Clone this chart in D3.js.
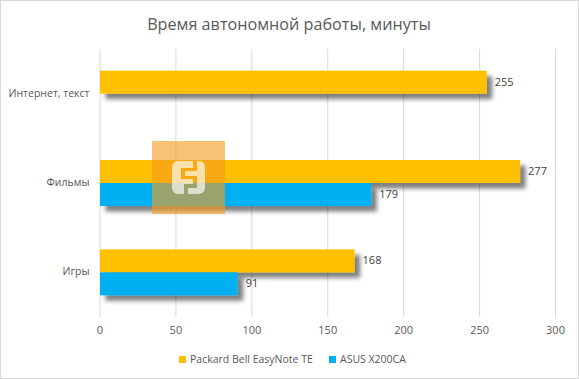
<!DOCTYPE html>
<html><head><meta charset="utf-8">
<script src="https://cdn.jsdelivr.net/npm/d3@7"></script>
<style>
html,body{margin:0;padding:0;background:#fff}
svg{display:block}
text{font-family:"Open Sans","Noto Sans",sans-serif}
</style></head><body>
<script>
const titleText = "Время автономной работы, минуты";
const categories = ["Интернет, текст", "Фильмы", "Игры"];
const seriesNames = ["Packard Bell EasyNote TE", "ASUS X200CA"];
const packardValues = [255, 277, 168];
const asusValues = [null, 179, 91];
const seriesColors = ["#FFC000", "#00B0F0"];
const xTicks = [0, 50, 100, 150, 200, 250, 300];

const W = 579, H = 379;
const svg = d3.select("body").append("svg").attr("width", W).attr("height", H);
const defs = svg.append("defs");
const f = defs.append("filter").attr("id","sh").attr("x","-10%").attr("y","-30%").attr("width","125%").attr("height","170%");
f.append("feDropShadow").attr("dx",5.5).attr("dy",5.5).attr("stdDeviation",2.1).attr("flood-color","#000").attr("flood-opacity",0.5);

svg.append("rect").attr("x",0.5).attr("y",0.5).attr("width",W-1).attr("height",H-1).attr("fill","#fff").attr("stroke","#D9D9D9");

const x = d3.scaleLinear().domain([0,300]).range([99.5,555]);
const y = d3.scaleBand().domain(categories).range([49,317]).paddingInner(0.485).paddingOuter(0.2425);
const inner = d3.scaleBand().domain(seriesNames).range([0,y.bandwidth()]);

svg.append("text").attr("x",289).attr("y",30).attr("text-anchor","middle").attr("font-size",16.2).attr("fill","#595959").text(titleText);

// grid + tick labels
const ax = svg.append("g").attr("transform","translate(0,317)").call(d3.axisBottom(x).tickValues(xTicks).tickSize(-268).tickPadding(9).tickFormat(d3.format("d")));
ax.select(".domain").remove();
ax.selectAll("line").attr("stroke","#D9D9D9");
ax.selectAll("text").attr("font-size",11).attr("fill","#595959").style("font-family",'"Open Sans","Noto Sans",sans-serif');

// category labels
const ay = svg.append("g").attr("transform","translate(99.5,-0.5)").call(d3.axisLeft(y).tickSize(0).tickPadding(10));
ay.select(".domain").remove();
ay.selectAll("text").attr("font-size",10.5).attr("fill","#595959").style("font-family",'"Open Sans","Noto Sans",sans-serif');

[packardValues, asusValues].forEach((vals,s)=>{
  const rows = categories.map((c,i)=>({c,v:vals[i]})).filter(d=>d.v!=null);
  const g = svg.append("g");
  g.selectAll("rect").data(rows).join("rect")
    .attr("x",x(0)+0.5)
    .attr("y",d=>y(d.c)+inner(seriesNames[s]))
    .attr("width",d=>x(d.v)-x(0)-0.5)
    .attr("height",inner.bandwidth())
    .attr("fill",seriesColors[s])
    .attr("filter","url(#sh)");
  g.selectAll("text").data(rows).join("text")
    .attr("x",d=>x(d.v)+8)
    .attr("y",d=>y(d.c)+inner(seriesNames[s])+inner.bandwidth()/2+3.5)
    .attr("font-size",11).attr("fill","#404040").text(d=>d.v);
});

// legend
const legendX = [179, 329];
seriesNames.forEach((n,i)=>{
  svg.append("rect").attr("x",legendX[i]).attr("y",356).attr("width",7).attr("height",7).attr("fill",seriesColors[i]);
  svg.append("text").attr("x",legendX[i]+11).attr("y",363).attr("font-size",10.5).attr("fill","#595959").text(n);
});

// watermark
const wm = svg.append("g");
wm.append("rect").attr("x",152).attr("y",141).attr("width",73).attr("height",73).attr("fill","#F59B1E").attr("fill-opacity",0.62);
wm.append("path").attr("fill","#fff").attr("fill-opacity",0.65).attr("fill-rule","evenodd")
  .attr("d","M178 161H199a6 6 0 0 1 6 6V188a6 6 0 0 1 -6 6H178a6 6 0 0 1 -6 -6V167a6 6 0 0 1 6 -6Z M193 161V168H181V179H193V184H184V194H188V188H197V176H185V171H197V161Z");
</script>
</body></html>
